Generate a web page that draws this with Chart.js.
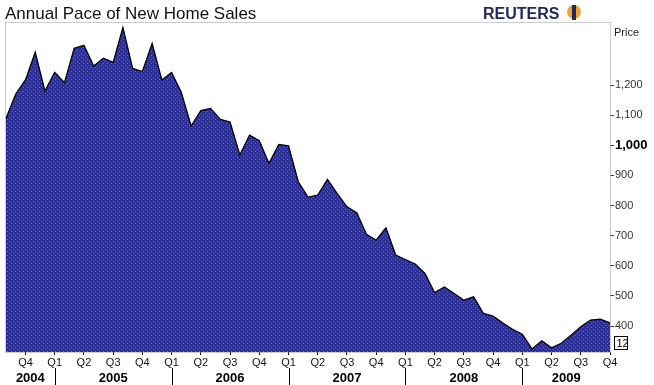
<!DOCTYPE html>
<html>
<head>
<meta charset="utf-8">
<script src="https://cdn.jsdelivr.net/npm/chart.js@4.4.0/dist/chart.umd.min.js"></script>
<style>
  html, body { margin: 0; padding: 0; background: #fff; }
  #wrap { width: 654px; height: 385px; position: relative; }
</style>
</head>
<body>
<div id="wrap"><canvas id="chart" width="654" height="385"></canvas></div>
<script>
// monthly sales pace, Jul 2004 - Sep 2009 (thousands, annual rate)
const months = [
  'Jul 04','Aug 04','Sep 04','Oct 04','Nov 04','Dec 04',
  'Jan 05','Feb 05','Mar 05','Apr 05','May 05','Jun 05','Jul 05','Aug 05','Sep 05','Oct 05','Nov 05','Dec 05',
  'Jan 06','Feb 06','Mar 06','Apr 06','May 06','Jun 06','Jul 06','Aug 06','Sep 06','Oct 06','Nov 06','Dec 06',
  'Jan 07','Feb 07','Mar 07','Apr 07','May 07','Jun 07','Jul 07','Aug 07','Sep 07','Oct 07','Nov 07','Dec 07',
  'Jan 08','Feb 08','Mar 08','Apr 08','May 08','Jun 08','Jul 08','Aug 08','Sep 08','Oct 08','Nov 08','Dec 08',
  'Jan 09','Feb 09','Mar 09','Apr 09','May 09','Jun 09','Jul 09','Aug 09','Sep 09'
];
const sales = [
  1089,1170,1217,1309,1180,1242,
  1208,1322,1332,1263,1289,1275,1391,1255,1245,1338,1217,1242,
  1175,1064,1115,1122,1086,1077,968,1034,1015,940,1003,998,
  879,828,835,887,840,796,776,705,685,726,636,621,
  606,575,511,530,508,486,497,442,433,410,389,373,
  324,351,328,343,370,398,420,423,411
];
// quarter marks sit on every third month starting at Sep 04
const quarterTicks = ['Q4','Q1','Q2','Q3','Q4','Q1','Q2','Q3','Q4','Q1','Q2','Q3','Q4','Q1','Q2','Q3','Q4','Q1','Q2','Q3','Q4'];
const years = ['2004','2005','2006','2007','2008','2009'];
const priceTicks = [400,500,600,700,800,900,1000,1100,1200];

function quarterAt(i) {
  if ((i - 2) % 3 !== 0 || i < 2) return '';
  return quarterTicks[(i - 2) / 3] || '';
}

// dotted blue fill like the original
function makePattern() {
  const c = document.createElement('canvas');
  c.width = 4; c.height = 4;
  const g = c.getContext('2d');
  g.fillStyle = '#2d3097';
  g.fillRect(0, 0, 4, 4);
  g.fillStyle = '#3d7da6';
  g.fillRect(1, 1, 1, 1);
  g.fillRect(3, 3, 1, 1);
  return g.createPattern(c, 'repeat');
}

const decor = {
  id: 'decor',
  afterDraw(chart) {
    const ctx = chart.ctx;
    const a = chart.chartArea;
    const xs = chart.scales.x;
    ctx.save();

    // title
    ctx.fillStyle = '#111';
    ctx.font = '17px Arial';
    ctx.textBaseline = 'alphabetic';
    ctx.textAlign = 'left';
    ctx.fillText('Annual Pace of New Home Sales', 5, 19);

    // logo
    ctx.font = 'bold 16px Arial';
    ctx.fillStyle = '#26265e';
    ctx.fillText('REUTERS', 483, 19);
    ctx.beginPath();
    ctx.arc(574, 12, 7, 0, Math.PI * 2);
    ctx.fillStyle = '#e8a33a';
    ctx.fill();
    ctx.fillStyle = '#26265e';
    ctx.fillRect(572, 5, 4, 15);

    // plot frame
    ctx.strokeStyle = '#999';
    ctx.lineWidth = 1;
    ctx.setLineDash([1, 1]);
    ctx.strokeRect(a.left - 0.5, a.top - 0.5, a.right - a.left + 1, a.bottom - a.top + 1);
    ctx.setLineDash([]);

    // axis caption
    ctx.fillStyle = '#222';
    ctx.font = '11px Arial';
    ctx.fillText('Price', 614, 36);

    // last value box
    ctx.strokeStyle = '#000';
    ctx.strokeRect(614.5, 336.5, 13, 13);
    ctx.fillStyle = '#000';
    ctx.font = '11px Arial';
    ctx.textAlign = 'center';
    ctx.fillText('.12', 621, 347);

    // year row
    const starts = [];
    quarterTicks.forEach((q, k) => { if (q === 'Q1') starts.push(2 + 3 * k); });
    const edges = [a.left].concat(starts.map(i => xs.getPixelForValue(i))).concat([a.right]);
    ctx.strokeStyle = '#000';
    ctx.lineWidth = 1;
    starts.forEach(i => {
      const x = Math.round(xs.getPixelForValue(i)) + 0.5;
      ctx.beginPath();
      ctx.moveTo(x, 368);
      ctx.lineTo(x, 385);
      ctx.stroke();
    });
    ctx.font = 'bold 13px Arial';
    ctx.fillStyle = '#000';
    ctx.textAlign = 'center';
    years.forEach((y, k) => {
      ctx.fillText(y, (edges[k] + edges[k + 1]) / 2, 382);
    });
    ctx.restore();
  }
};

const ctx = document.getElementById('chart');
const myChart = new Chart(ctx, {
  type: 'line',
  data: {
    labels: months,
    datasets: [
      {
        label: 'New home sales',
        data: sales,
        borderColor: '#000',
        borderWidth: 1.3,
        backgroundColor: makePattern(),
        fill: 'start',
        tension: 0,
        pointRadius: 0,
      }
    ]
  },
  options: {
    responsive: false,
    animation: false,
    devicePixelRatio: 1,
    layout: {
      padding: { top: 23, left: 6, right: 0, bottom: 0 }
    },
    plugins: {
      legend: { display: false },
      title: { display: false },
      tooltip: { enabled: false },
    },
    scales: {
      x: {
        type: 'category',
        offset: false,
        border: { display: false },
        grid: {
          drawOnChartArea: false,
          drawTicks: true,
          tickLength: 3,
          color: (c) => quarterAt(c.index) ? '#000' : 'rgba(0,0,0,0)',
        },
        ticks: {
          autoSkip: false,
          maxRotation: 0,
          padding: 1,
          color: '#111',
          font: { family: 'Arial', size: 11 },
          callback: (v, i) => quarterAt(i),
        },
        afterFit: (s) => { s.height = 33; },
      },
      y: {
        position: 'right',
        min: 314,
        max: 1406,
        border: { display: false },
        grid: {
          drawOnChartArea: false,
          drawTicks: true,
          tickLength: 4,
          color: '#444',
        },
        afterBuildTicks: (s) => { s.ticks = priceTicks.map(v => ({ value: v })); },
        ticks: {
          padding: 1,
          color: (c) => c.tick && c.tick.value === 1000 ? '#000' : '#333',
          font: (c) => c.tick && c.tick.value === 1000
            ? { family: 'Arial', size: 13, weight: 'bold' }
            : { family: 'Arial', size: 11 },
          callback: (v) => v.toLocaleString('en-US'),
        },
        afterFit: (s) => { s.width = 44; },
      }
    }
  },
  plugins: [decor]
});
</script>
</body>
</html>
